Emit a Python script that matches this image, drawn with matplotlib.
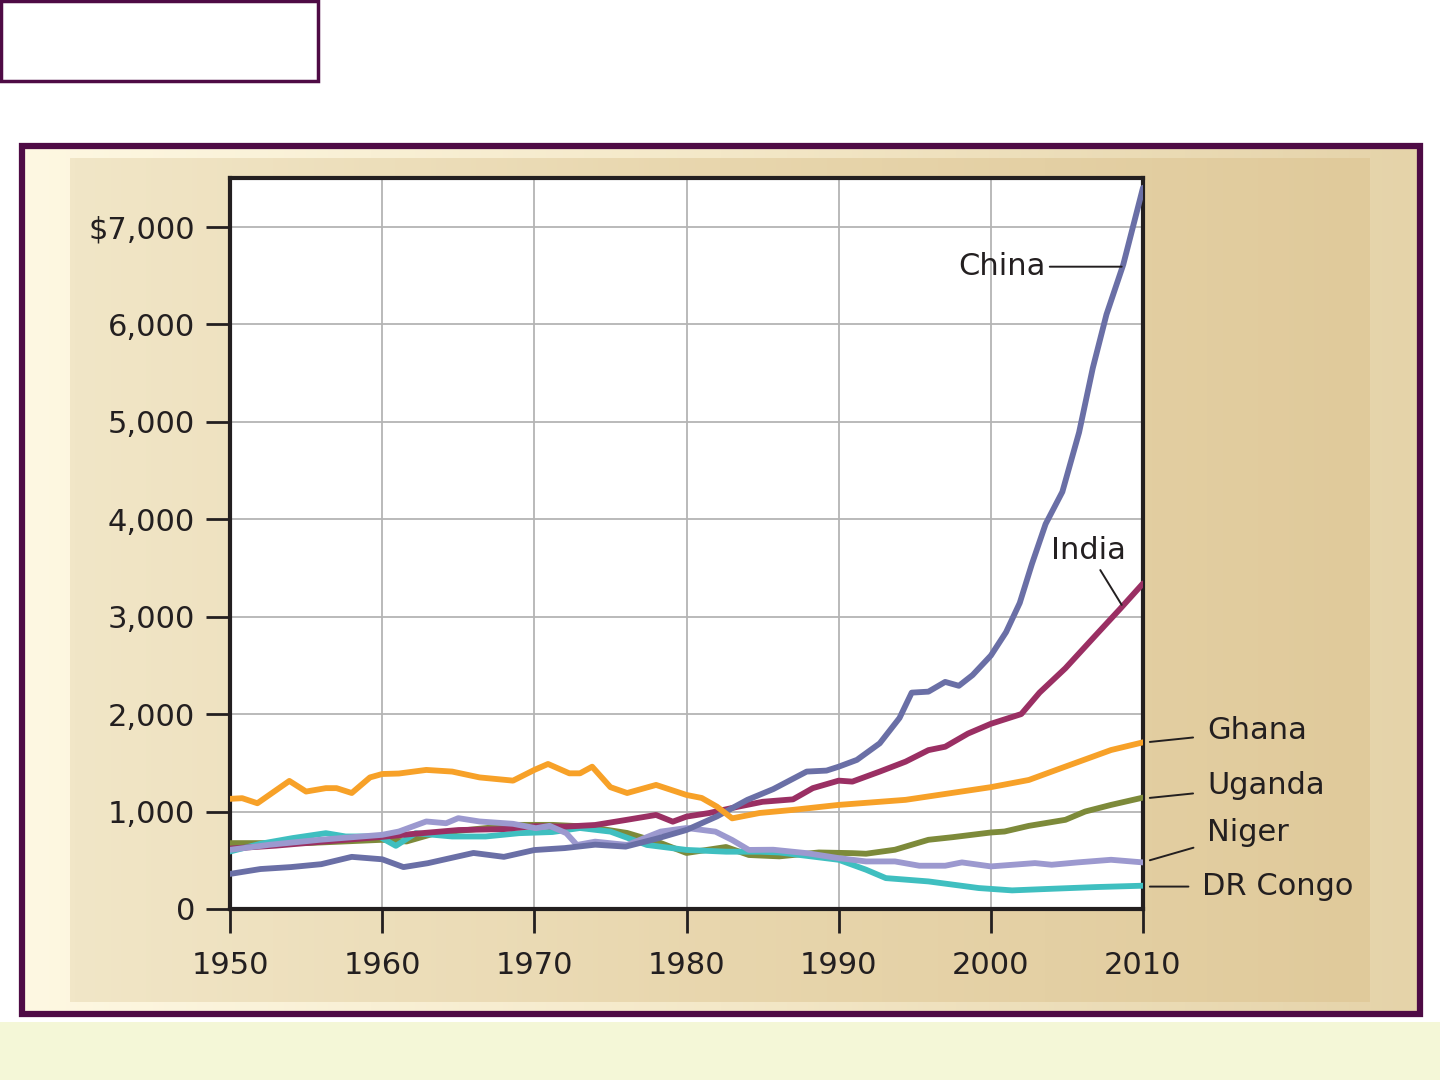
"""GDP per capita chart: China, India and four African countries"""
import matplotlib
matplotlib.use("Agg")
import matplotlib.pyplot as plt
import numpy as np
from matplotlib.patches import Rectangle
from matplotlib.colors import LinearSegmentedColormap

# data (year, dollars per person)
china_years = [1950, 1952, 1954, 1956, 1958, 1960, 1961.4, 1963, 1966, 1968, 1970, 1972, 1974,
               1976, 1978, 1980, 1982, 1984, 1985.7, 1987.9, 1989.2, 1990, 1991.2, 1992.7, 1994,
               1994.8, 1995.9, 1997, 1997.9, 1998.8, 2000, 2001, 2001.9, 2002.7, 2003.6, 2004.7,
               2005.8, 2006.7, 2007.6, 2008.7, 2010]
china_vals = [360, 410, 430, 460, 535, 510, 430, 470, 575, 535, 605, 625, 660,
              640, 720, 811, 950, 1120, 1230, 1410, 1420, 1460, 1530, 1700, 1960,
              2220, 2230, 2330, 2290, 2400, 2600, 2840, 3140, 3540, 3950, 4280,
              4890, 5550, 6100, 6610, 7400]

india_years = [1950, 1953, 1956, 1960, 1962, 1965, 1968, 1970, 1972, 1974, 1976, 1978, 1979.1,
               1980, 1981.5, 1983.4, 1985, 1987, 1988.3, 1990, 1990.9, 1992.7, 1994.4, 1995.9,
               1997, 1998.5, 2000, 2001.4, 2002, 2003.2, 2004.9, 2006.9, 2008.5, 2010]
india_vals = [620, 650, 690, 740, 770, 810, 820, 850, 845, 862, 913, 965, 896,
              948, 985, 1050, 1100, 1125, 1240, 1317, 1307, 1410, 1512, 1630,
              1665, 1800, 1900, 1970, 2000, 2220, 2470, 2810, 3080, 3340]

ghana_years = [1950, 1950.8, 1951.8, 1953.9, 1955, 1956.3, 1957, 1958, 1959.2, 1960, 1961.1,
               1962.9, 1964.6, 1966.4, 1968.6, 1970, 1970.9, 1972.3, 1973, 1973.8, 1975,
               1976.1, 1978, 1980, 1981, 1982, 1983, 1984.8, 1987, 1990, 1994.4, 2000,
               2002.5, 2004.6, 2007.9, 2010]
ghana_vals = [1130, 1137, 1085, 1314, 1205, 1240, 1240, 1190, 1350, 1385, 1390,
              1427, 1410, 1350, 1317, 1427, 1488, 1392, 1392, 1460, 1250,
              1190, 1273, 1170, 1139, 1050, 930, 985, 1017, 1068, 1120, 1250,
              1324, 1444, 1631, 1710]

uganda_years = [1950, 1955, 1960, 1961.6, 1963.5, 1966.8, 1969, 1971.2, 1973.4, 1976.1, 1978.3,
                1980, 1982.6, 1984.1, 1986.1, 1988.7, 1990.9, 1991.8, 1993.7,
                1995.9, 1997.5, 2000, 2000.9, 2002.5, 2004.9, 2006.2, 2007.9, 2010]
uganda_vals = [676, 676, 710, 693, 778, 830, 863, 863, 846, 780, 677,
               575, 636, 554, 540, 580, 573, 567, 608,
               710, 737, 785, 795, 853, 915, 1000, 1068, 1143]

niger_years = [1950, 1952.6, 1955.9, 1960, 1961.1, 1962.9, 1964.2, 1965, 1966.4, 1968.6, 1970.1,
               1971, 1972.1, 1972.8, 1974, 1976.1, 1978.3, 1980, 1981.9, 1983, 1984.1,
               1985.7, 1987.9, 1990, 1991.8, 1993.7, 1995.3, 1997, 1998.1, 2000, 2002.9,
               2004, 2005.7, 2007.9, 2010]
niger_vals = [607, 659, 710, 761, 795, 898, 880, 932, 898, 874, 829,
              853, 778, 657, 691, 657, 794, 831, 794, 708, 606,
              608, 573, 522, 488, 488, 444, 444, 478, 437, 471,
              454, 478, 505, 478]

congo_years = [1950, 1952, 1954.1, 1956.3, 1957.6, 1959.8, 1960.9, 1962.2, 1964.6, 1966.8, 1969,
               1971.2, 1973, 1975, 1977.4, 1980, 1982.6, 1984.8, 1986.1, 1990, 1991.8,
               1993.1, 1995.9, 1999.2, 2001.4, 2003.6, 2006.9, 2010]
congo_vals = [590, 669, 727, 778, 744, 744, 648, 778, 744, 744, 778,
              790, 831, 794, 657, 606, 588, 588, 580, 505, 403,
              317, 283, 215, 191, 205, 225, 239]

series = [
    ("Uganda", uganda_years, uganda_vals, "#7d8a3a"),
    ("DR Congo", congo_years, congo_vals, "#3fbfc0"),
    ("India", india_years, india_vals, "#9a2f63"),
    ("Niger", niger_years, niger_vals, "#9c99cf"),
    ("China", china_years, china_vals, "#6a6fa6"),
    ("Ghana", ghana_years, ghana_vals, "#f7a128"),
]

x_ticks = [1950, 1960, 1970, 1980, 1990, 2000, 2010]
y_ticks = [0, 1000, 2000, 3000, 4000, 5000, 6000, 7000]
y_labels = ["0", "1,000", "2,000", "3,000", "4,000", "5,000", "6,000", "$7,000"]

W, H = 1440, 1080
purple = "#4e0b45"
ink = "#231f20"

fig = plt.figure(figsize=(W / 100, H / 100), dpi=100)
fig.patch.set_facecolor("white")


def px_box(x0, y0, x1, y1):
    # [left, bottom, width, height] in figure fractions from top-left pixels
    return [x0 / W, 1 - y1 / H, (x1 - x0) / W, (y1 - y0) / H]


def px_rect(x0, y0, x1, y1, **kw):
    l, b, w, h = px_box(x0, y0, x1, y1)
    return Rectangle((l, b), w, h, transform=fig.transFigure, **kw)


def gradient_axes(box, colors, z):
    g = fig.add_axes(box, zorder=z)
    cmap = LinearSegmentedColormap.from_list("g", colors)
    g.imshow(np.linspace(0, 1, 256).reshape(1, -1), aspect="auto", cmap=cmap,
             extent=[0, 1, 0, 1])
    g.set_axis_off()
    return g


# decorations around the chart
fig.add_artist(px_rect(1, 1, 318, 81, facecolor="white", edgecolor=purple, lw=2.5, zorder=-10))
fig.add_artist(px_rect(0, 1022, 1440, 1080, facecolor="#f4f7d7", edgecolor="none", zorder=-10))
gradient_axes(px_box(22, 146, 1420, 1014), ["#fef8e2", "#f4e8c8", "#e5d3a9"], -8)
gradient_axes(px_box(70, 158, 1370, 1002), ["#f1e6c7", "#e8d6ad", "#e0ca9b"], -7)
fig.add_artist(px_rect(22, 146, 1420, 1014, facecolor="none", edgecolor=purple, lw=4.5, zorder=5))

# main chart
ax = fig.add_axes(px_box(230, 178, 1143, 909))
ax.set_facecolor("white")
for name, xs, ys, color in series:
    ax.plot(xs, ys, color=color, lw=4.2, solid_capstyle="round", solid_joinstyle="round",
            zorder=3)

ax.set_xlim(1950, 2010)
ax.set_ylim(0, 7500)
ax.set_xticks(x_ticks)
ax.set_yticks(y_ticks)
ax.set_yticklabels(y_labels)
ax.grid(True, color="#b4b4b4", lw=1.3, zorder=1)
ax.set_axisbelow(True)
for s in ax.spines.values():
    s.set_linewidth(3)
    s.set_color(ink)
ax.tick_params(axis="both", direction="out", length=17, width=2, color=ink,
               labelsize=22, labelcolor=ink)
ax.tick_params(axis="x", pad=13)
ax.tick_params(axis="y", pad=8)

# labels with leader lines
lab = dict(fontsize=22, color=ink, annotation_clip=False)
lead = dict(arrowstyle="-", color=ink, lw=1.4, shrinkB=0)
ax.annotate("China", xy=(2008.6, 6590), xytext=(2003.6, 6590), ha="right", va="center",
            arrowprops=dict(lead, shrinkA=1), **lab)
ax.annotate("India", xy=(2008.6, 3120), xytext=(2006.4, 3530), ha="center", va="bottom",
            arrowprops=dict(lead, shrinkA=2), **lab)
for name, yv, ytxt in [("Ghana", 1714, 1827), ("Uganda", 1140, 1262), ("Niger", 500, 790)]:
    ax.annotate(name, xy=(2010.45, yv), xytext=(2014.2, ytxt), ha="left", va="center",
                arrowprops=dict(lead, shrinkA=8), **lab)
ax.annotate("DR Congo", xy=(2010.45, 230), xytext=(2013.9, 230), ha="left", va="center",
            arrowprops=dict(lead, shrinkA=8), **lab)

plt.savefig("out.png", dpi=100, facecolor=fig.get_facecolor())
plt.close()
